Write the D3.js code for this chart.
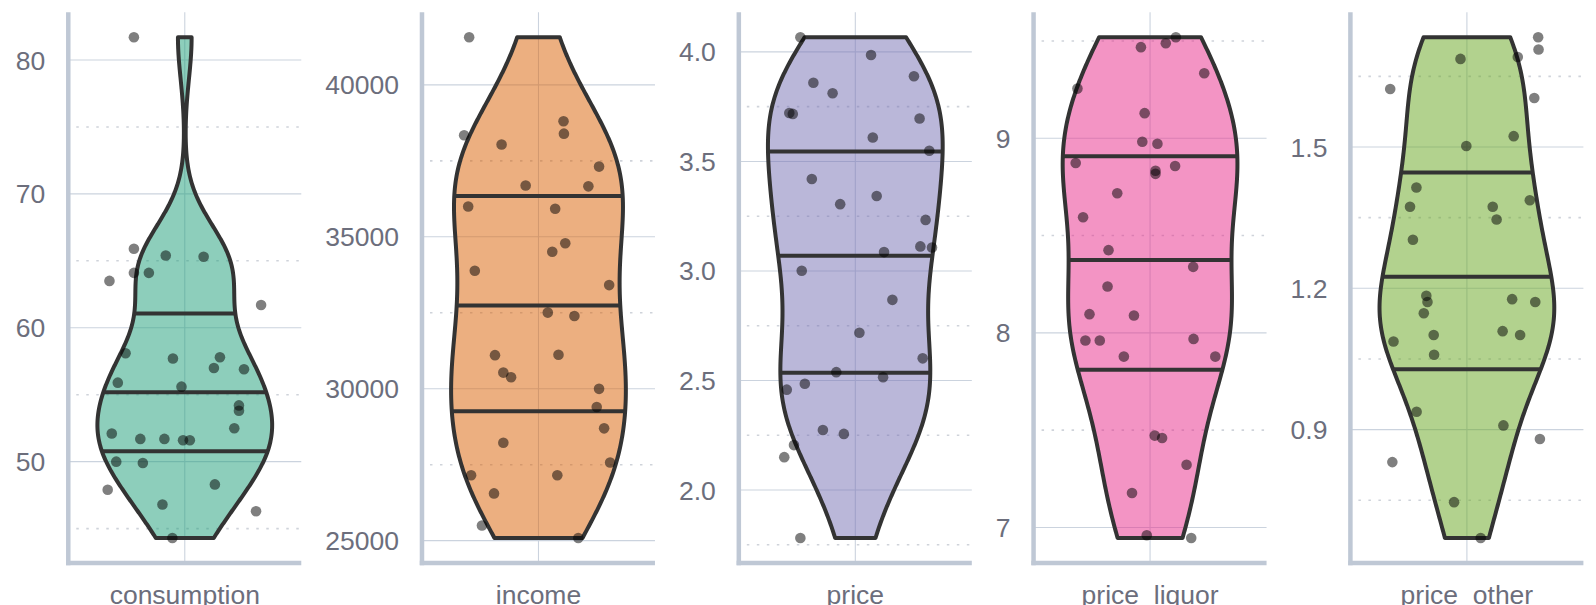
<!DOCTYPE html>
<html>
<head>
<meta charset="utf-8">
<script src="https://cdn.jsdelivr.net/npm/d3@7"></script>
<style>
  html, body { margin: 0; padding: 0; background: #ffffff; }
  svg { display: block; }
  text { font-family: "Liberation Sans", Arial, Helvetica, sans-serif; }
</style>
</head>
<body>
<svg id="chart" width="1596" height="605"></svg>
<script>
// ---- data ----
const categories = ["consumption", "income", "price", "price_liquor", "price_other"];

const consumption = [81.7, 65.9, 65.4, 65.3, 63.5, 64.1, 64.1, 61.7, 58.1, 57.7, 57.8, 57.0, 56.9, 55.9, 55.6,
  54.2, 53.8, 52.5, 52.1, 51.7, 51.7, 51.6, 51.6, 50.0, 49.9, 47.9, 48.3, 46.8, 46.3, 44.3];
const income = [41568, 38343, 38802, 38394, 38037, 37311, 36686, 36661, 35998, 35922, 34787, 34507, 33882, 33411, 32506,
  32391, 31104, 31117, 30530, 30378, 29995, 29396, 28695, 28224, 27574, 27153, 27153, 26554, 25496, 25088];
const price = [4.067, 3.986, 3.889, 3.859, 3.811, 3.721, 3.717, 3.696, 3.609, 3.549, 3.420, 3.342, 3.305, 3.233, 3.112,
  3.107, 3.086, 3.001, 2.868, 2.718, 2.601, 2.538, 2.515, 2.485, 2.458, 2.274, 2.256, 2.205, 2.150, 1.781];
const priceLiquor = [9.519, 9.488, 9.468, 9.334, 9.255, 9.129, 8.982, 8.972, 8.873, 8.857, 8.833, 8.817, 8.717, 8.594, 8.425,
  8.339, 8.238, 8.096, 8.089, 7.969, 7.961, 7.961, 7.878, 7.878, 7.472, 7.460, 7.322, 7.177, 6.960, 6.946];
const priceOther = [1.733, 1.707, 1.691, 1.687, 1.623, 1.604, 1.523, 1.502, 1.414, 1.387, 1.373, 1.373, 1.346, 1.303, 1.184,
  1.171, 1.177, 1.171, 1.147, 1.087, 1.101, 1.109, 1.101, 1.059, 0.938, 0.909, 0.880, 0.831, 0.746, 0.670];

// horizontal jitter of each point, in category units (same order as the values)
const consumptionJitter = [-0.262, -0.262, -0.098, 0.097, -0.388, -0.262, -0.185, 0.393, -0.305, -0.061, 0.181, 0.150, 0.305, -0.345, -0.017,
  0.279, 0.279, 0.255, -0.376, -0.229, -0.105, -0.009, 0.026, -0.353, -0.216, -0.397, 0.155, -0.115, 0.367, -0.064];
const incomeJitter = [-0.357, -0.383, 0.129, 0.131, -0.190, 0.312, -0.066, 0.257, -0.362, 0.086, 0.138, 0.071, -0.328, 0.364, 0.048,
  0.185, -0.224, 0.103, -0.181, -0.141, 0.312, 0.300, 0.338, -0.181, 0.369, -0.347, 0.097, -0.229, -0.291, 0.205];
const priceJitter = [-0.283, 0.081, 0.302, -0.216, -0.117, -0.340, -0.322, 0.331, 0.090, 0.381, -0.224, 0.110, -0.078, 0.362, 0.335,
  0.395, 0.148, -0.276, 0.191, 0.021, 0.347, -0.098, 0.143, -0.260, -0.353, -0.167, -0.059, -0.316, -0.366, -0.283];
const priceLiquorJitter = [0.133, 0.081, -0.047, 0.279, -0.374, -0.028, -0.040, 0.038, -0.383, 0.129, 0.028, 0.028, -0.169, -0.345, -0.214,
  0.222, -0.219, -0.312, -0.083, 0.224, -0.333, -0.259, 0.336, -0.135, 0.024, 0.062, 0.188, -0.093, -0.017, 0.212];
const priceOtherJitter = [0.367, 0.369, 0.262, -0.033, -0.395, 0.347, 0.241, -0.003, -0.260, 0.324, -0.293, 0.133, 0.153, -0.278, -0.209,
  -0.203, 0.233, 0.352, -0.222, -0.378, -0.171, 0.184, 0.274, -0.169, -0.259, 0.188, 0.376, -0.384, -0.066, 0.071];

// y-axis tick values and their label formats
const consumptionTicks = [50, 60, 70, 80];
const incomeTicks = [25000, 30000, 35000, 40000];
const priceTicks = [2.0, 2.5, 3.0, 3.5, 4.0];
const priceLiquorTicks = [7, 8, 9];
const priceOtherTicks = [0.9, 1.2, 1.5];
const tickFormats = ["d", "d", ".1f", "d", ".1f"];

const seriesValues = [consumption, income, price, priceLiquor, priceOther];
const seriesJitter = [consumptionJitter, incomeJitter, priceJitter, priceLiquorJitter, priceOtherJitter];
const seriesTicks = [consumptionTicks, incomeTicks, priceTicks, priceLiquorTicks, priceOtherTicks];
const palette = d3.schemeDark2;

// ---- layout ----
const W = 1596, H = 605;
const marginLeft = 15.8, marginRight = 12.6;
const panelTop = 12.2, panelBottom = 563;
const labelGap = 23, panelSpacing = 24;
const fontSize = 26.5;
const titleBaseline = 603.5;
const textColor = "#6c6e7c";
const axisColor = "#bfc8d5";
const gridColor = "#cbd3de";
const minorColor = "#cfd3da";

const svg = d3.select("#chart");

// measure the widest tick label of each panel
const probe = svg.append("text").attr("font-size", fontSize);
const labelWidths = seriesTicks.map((ticks, i) => {
  const fmt = d3.format(tickFormats[i]);
  return d3.max(ticks, t => { probe.text(fmt(t)); return probe.node().getComputedTextLength(); });
});
probe.remove();

const panelW = (W - marginLeft - marginRight - d3.sum(labelWidths) - 5 * labelGap - 4 * panelSpacing) / 5;

// ---- kernel density helpers (gaussian kernel, nrd0 bandwidth) ----
function bwNrd0(x) {
  const s = d3.deviation(x);
  const sorted = x.slice().sort(d3.ascending);
  const iqr = d3.quantileSorted(sorted, 0.75) - d3.quantileSorted(sorted, 0.25);
  let lo = Math.min(s, iqr / 1.34);
  if (!(lo > 0)) lo = s || Math.abs(x[0]) || 1;
  return 0.9 * lo * Math.pow(x.length, -0.2);
}
function densityGrid(x, n) {
  const bw = bwNrd0(x);
  const [lo, hi] = d3.extent(x);
  const grid = d3.range(n).map(i => lo + (hi - lo) * i / (n - 1));
  const k = 1 / (x.length * bw * Math.sqrt(2 * Math.PI));
  return grid.map(y => ({
    y,
    d: k * d3.sum(x, v => Math.exp(-0.5 * ((y - v) / bw) ** 2))
  }));
}
function interp(xs, ys, xv) {
  const i = d3.bisectLeft(xs, xv);
  if (i <= 0) return ys[0];
  if (i >= xs.length) return ys[ys.length - 1];
  const t = (xv - xs[i - 1]) / (xs[i] - xs[i - 1] || 1);
  return ys[i - 1] + t * (ys[i] - ys[i - 1]);
}

// ---- panels ----
let cursor = marginLeft;
categories.forEach((cat, i) => {
  const values = seriesValues[i];
  const jitter = seriesJitter[i];
  const ticks = seriesTicks[i];
  const fmt = d3.format(tickFormats[i]);
  const color = palette[i];

  const x0 = cursor + labelWidths[i] + labelGap;
  cursor = x0 + panelW + panelSpacing;

  const [vmin, vmax] = d3.extent(values);
  const pad = (vmax - vmin) * 0.05;
  const y = d3.scaleLinear().domain([vmin - pad, vmax + pad]).range([panelBottom, panelTop]);
  const x = d3.scaleLinear().domain([-0.6, 0.6]).range([x0, x0 + panelW]);
  const cx = x(0);

  const g = svg.append("g");

  // minor grid lines halfway between major ticks
  const step = ticks[1] - ticks[0];
  const minor = [ticks[0] - step / 2, ...ticks.map(t => t + step / 2)]
    .filter(v => v >= y.domain()[0] && v <= y.domain()[1]);
  g.selectAll("line.minor").data(minor).join("line")
    .attr("x1", x0).attr("x2", x0 + panelW)
    .attr("y1", d => y(d)).attr("y2", d => y(d))
    .attr("stroke", minorColor).attr("stroke-width", 1.6)
    .attr("stroke-dasharray", "2.5,7.5").attr("stroke-dashoffset", -8);

  // major grid lines
  g.selectAll("line.major").data(ticks).join("line")
    .attr("x1", x0).attr("x2", x0 + panelW)
    .attr("y1", d => y(d)).attr("y2", d => y(d))
    .attr("stroke", gridColor).attr("stroke-width", 1.1);
  g.append("line")
    .attr("x1", cx).attr("x2", cx).attr("y1", panelTop).attr("y2", panelBottom)
    .attr("stroke", gridColor).attr("stroke-width", 1.1);

  // violin
  const dens = densityGrid(values, 512);
  const dmax = d3.max(dens, d => d.d);
  const half = 0.45;
  const pts = [
    ...dens.map(d => [x(half * d.d / dmax), y(d.y)]),
    ...dens.slice().reverse().map(d => [x(-half * d.d / dmax), y(d.y)])
  ];
  g.append("path")
    .attr("d", d3.line()(pts) + "Z")
    .attr("fill", color).attr("fill-opacity", 0.5)
    .attr("stroke", "#333333").attr("stroke-width", 4)
    .attr("stroke-linejoin", "round");

  // quartile segments from the cumulative density
  const ys = dens.map(d => d.y);
  const total = d3.sum(dens, d => d.d);
  const cdf = d3.cumsum(dens, d => d.d).map(c => c / total);
  const widths = dens.map(d => d.d / dmax);
  [0.25, 0.5, 0.75].forEach(q => {
    const yq = interp(Array.from(cdf), ys, q);
    const wq = interp(ys, widths, yq);
    g.append("line")
      .attr("x1", x(-half * wq)).attr("x2", x(half * wq))
      .attr("y1", y(yq)).attr("y2", y(yq))
      .attr("stroke", "#333333").attr("stroke-width", 4);
  });

  // jittered observations
  g.selectAll("circle").data(values).join("circle")
    .attr("cx", (d, j) => x(jitter[j]))
    .attr("cy", d => y(d))
    .attr("r", 5.3)
    .attr("fill", "#000000").attr("fill-opacity", 0.5);

  // axis lines
  g.append("line")
    .attr("x1", x0).attr("x2", x0).attr("y1", panelTop).attr("y2", panelBottom + 2.2)
    .attr("stroke", axisColor).attr("stroke-width", 4.5);
  g.append("line")
    .attr("x1", x0 - 2.2).attr("x2", x0 + panelW).attr("y1", panelBottom).attr("y2", panelBottom)
    .attr("stroke", axisColor).attr("stroke-width", 4.5);

  // tick labels
  g.selectAll("text.tick").data(ticks).join("text")
    .attr("x", x0 - labelGap).attr("y", d => y(d)).attr("dy", "0.36em")
    .attr("text-anchor", "end").attr("font-size", fontSize).attr("fill", textColor)
    .text(d => fmt(d));

  // category label
  g.append("text")
    .attr("x", cx).attr("y", titleBaseline)
    .attr("text-anchor", "middle").attr("font-size", fontSize).attr("fill", textColor)
    .text(cat);
});
</script>
</body>
</html>
